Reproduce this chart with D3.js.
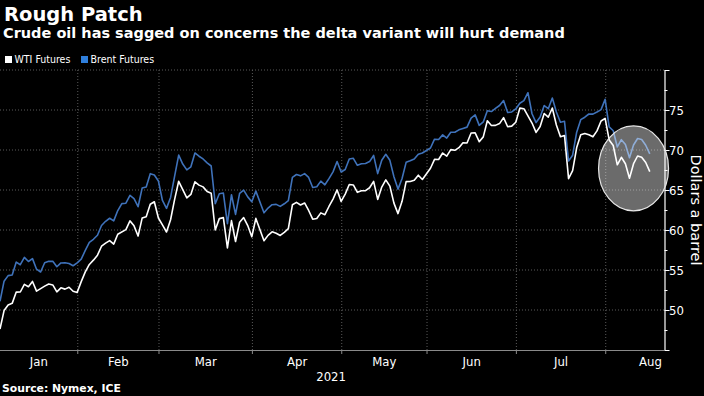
<!DOCTYPE html>
<html>
<head>
<meta charset="utf-8">
<script src="https://cdn.jsdelivr.net/npm/d3@7"></script>
<style>
  html, body { margin: 0; padding: 0; background: #000; }
  svg { display: block; }
</style>
</head>
<body>
<div id="chart"></div>
<script>
//-- DATA --\\
// one value per weekday from firstDay to lastDay, null where the exchange was shut
var firstDay = "2021-01-04";
var lastDay = "2021-08-16";

var wti = [
  47.62, 49.93, 50.63, 50.83, 52.24, 52.25, 53.21, 52.91, 53.57, 52.36, null, 52.98, 53.24, 53.13, 52.27, 52.77, 52.61, 52.85, 52.34, 52.20,
  53.55, 54.76, 55.69, 56.23, 56.85, 57.97, 58.36, 58.68, 58.24, 59.47, null, 60.05, 61.14, 60.52, 59.24, 61.49, 61.67, 63.22, 63.53, 61.50,
  60.64, 59.75, 61.28, 63.83, 66.09, 65.05, 64.01, 64.44, 66.02, 65.61, 65.39, 64.80, 64.60, 60.00, 61.42, 61.55, 57.76, 61.18, 58.56, 60.97, 61.56, 60.55, 59.16,
  61.45, null, 58.65, 59.33, 59.77, 59.60, 59.32, 59.70, 60.18, 63.15, 63.46, 63.13, 63.38, 62.44, 61.35, 61.43, 62.14, 61.91, 62.94, 63.86, 65.01, 63.58,
  64.49, 65.69, 65.63, 64.71, 64.90, 64.92, 65.28, 66.08, 63.82, 65.37, 66.27, 65.49, 63.36, 62.05, 63.58, 66.05, 66.07, 66.21, 66.85, 66.32, null,
  67.72, 68.83, 68.81, 69.62, 69.23, 70.05, 69.96, 70.29, 70.91, 70.88, 72.12, 72.15, 71.04, 71.64, 73.66, 73.06, 73.08, 73.30, 74.05, 72.91, 72.98, 73.47,
  75.23, 75.16, null, 73.37, 72.20, 72.94, 74.56, 74.10, 75.25, 73.13, 71.65, 71.81, 66.42, 67.42, 70.30, 71.91, 72.07, 71.91, 71.65, 72.39, 73.62, 73.95,
  71.26, 70.56, 68.15, 69.09, 68.28, 66.48, 68.29, 69.25, 69.09, 68.44, 67.29
];

var brent = [
  51.09, 53.60, 54.30, 54.38, 55.99, 55.66, 56.58, 56.06, 56.42, 55.10, 54.75, 55.90, 56.08, 56.10, 55.41, 55.88, 55.91, 55.81, 55.53, 55.88,
  56.35, 57.46, 58.46, 58.84, 59.34, 60.56, 61.09, 61.47, 61.14, 62.43, 63.30, 63.35, 64.34, 63.93, 62.91, 65.24, 65.37, 67.04, 66.88, 66.13,
  63.69, 62.70, 64.07, 66.74, 69.36, 68.24, 67.52, 67.90, 69.63, 69.22, 68.88, 68.39, 68.00, 63.28, 64.53, 64.62, 60.79, 64.41, 61.95, 64.57, 64.98, 64.14, 63.54,
  64.86, null, 62.15, 62.74, 63.16, 63.20, 62.95, 63.28, 63.67, 66.58, 66.94, 66.77, 67.05, 66.57, 65.32, 65.40, 66.11, 65.65, 66.42, 67.27, 68.56, 67.25,
  67.56, 68.88, 68.96, 68.09, 68.28, 68.32, 68.55, 69.32, 67.05, 68.71, 69.46, 68.71, 66.66, 65.11, 66.44, 68.46, 68.65, 68.87, 69.46, 69.63, null,
  70.25, 71.35, 71.31, 71.89, 71.49, 72.22, 72.22, 72.52, 72.69, 72.86, 73.99, 74.39, 73.08, 73.51, 74.90, 74.81, 75.19, 75.56, 76.18, 74.68, 74.76, 75.13,
  75.84, 76.17, 77.16, 74.53, 73.43, 74.12, 75.55, 75.16, 76.49, 74.76, 73.47, 73.59, 68.62, 69.35, 72.23, 73.79, 74.10, 74.50, 74.48, 74.74, 75.05, 76.33,
  72.89, 72.41, 70.38, 71.29, 70.70, 69.04, 70.63, 71.44, 71.31, 70.59, 69.51
];

var seriesNames = ["WTI Futures", "Brent Futures"];
var monthNames = ["Jan", "Feb", "Mar", "Apr", "May", "Jun", "Jul", "Aug"];
var yearLabel = "2021";
var yTickValues = [50, 55, 60, 65, 70, 75];
var yGridValues = [50, 55, 60, 65, 70, 75, 80];

//-- CONSTANTS --\\
var width = 704;
var height = 396;
var plotLeft = 0;
var plotRight = 664;
var plotTop = 70;
var plotBottom = 350;
var bgCol = "#000000";
var wtiCol = "#ffffff";
var brentCol = "#3f72ba";
var brentLegendCol = "#2f7fdc";
var gridCol = "#5a5a5a";
var gridShift = 0.85;   // month lines sit a little before the first session
var narrowFont = "'Liberation Sans Narrow', 'DejaVu Sans Condensed', sans-serif";
var mainFont = "'DejaVu Sans', Verdana, sans-serif";

var parseDay = d3.timeParse("%Y-%m-%d");
var startDate = parseDay(firstDay);

/* counts weekdays from the first session, weekends squeezed out */
function weekdayIndex(d) {
    var n = d3.timeDay.count(startDate, d);
    return n - 2 * Math.floor(n / 7);
}

var days = d3.timeDay.range(startDate, d3.timeDay.offset(parseDay(lastDay), 1))
    .filter(function (d) { return d.getDay() !== 0 && d.getDay() !== 6; });

function toPoints(values) {
    return days.map(function (d, i) { return {date: d, idx: weekdayIndex(d), v: values[i]}; })
        .filter(function (p) { return p.v != null; });
}

var wtiPts = toPoints(wti);
var brentPts = toPoints(brent);

//-- SCALES --\\
var x = d3.scaleLinear().domain([0, 163.5]).range([plotLeft, plotRight]);
var y = d3.scaleLinear().domain([45, 80]).range([plotBottom, plotTop]);

// first weekday of each month Jan..Sep
var monthStarts = d3.range(0, 9).map(function (m) {
    var d = new Date(2021, m, 1);
    while (d.getDay() === 0 || d.getDay() === 6) { d = d3.timeDay.offset(d, 1); }
    return x(weekdayIndex(d) - gridShift);
});

var svg = d3.select("#chart").append("svg")
    .attr("width", width)
    .attr("height", height);

svg.append("rect").attr("width", width).attr("height", height).attr("fill", bgCol);

//-- GRID --\\
svg.append("g").selectAll("line").data(yGridValues).enter().append("line")
    .attr("x1", plotLeft).attr("x2", plotRight)
    .attr("y1", function (d) { return y(d); }).attr("y2", function (d) { return y(d); })
    .attr("stroke", gridCol).attr("stroke-width", 1).attr("stroke-dasharray", "1,2");

var innerMonths = monthStarts.slice(1, 8);
svg.append("g").selectAll("line").data(innerMonths).enter().append("line")
    .attr("x1", function (d) { return d; }).attr("x2", function (d) { return d; })
    .attr("y1", plotTop).attr("y2", plotBottom)
    .attr("stroke", gridCol).attr("stroke-width", 1).attr("stroke-dasharray", "1,2");

// bottom axis line + month ticks
svg.append("line")
    .attr("x1", plotLeft).attr("x2", plotRight)
    .attr("y1", plotBottom + 0.5).attr("y2", plotBottom + 0.5)
    .attr("stroke", "#8a8a8a").attr("stroke-width", 1);
svg.append("g").selectAll("line").data(innerMonths).enter().append("line")
    .attr("x1", function (d) { return d; }).attr("x2", function (d) { return d; })
    .attr("y1", plotBottom).attr("y2", plotBottom + 4)
    .attr("stroke", "#8a8a8a").attr("stroke-width", 1);

// month labels centred on the visible part of each month
svg.append("g").selectAll("text").data(monthNames).enter().append("text")
    .attr("x", function (d, i) { return (Math.max(monthStarts[i], plotLeft) + monthStarts[i + 1]) / 2; })
    .attr("y", 366)
    .attr("text-anchor", "middle")
    .attr("fill", "#fff")
    .style("font-family", narrowFont)
    .style("font-size", "13px")
    .text(function (d) { return d; });

svg.append("text")
    .attr("x", (monthStarts[3] + monthStarts[4]) / 2 + 34)
    .attr("y", 381)
    .attr("text-anchor", "middle")
    .attr("fill", "#fff")
    .style("font-family", narrowFont)
    .style("font-size", "13px")
    .text(yearLabel);

//-- RIGHT AXIS --\\
var yAxis = d3.axisRight(y)
    .tickValues(d3.range(45, 80.1, 2.5))
    .tickSize(0)
    .tickFormat("");
var axisG = svg.append("g").attr("transform", "translate(" + (plotRight + 0.5) + ",0)").call(yAxis);
axisG.select(".domain").attr("stroke", "#fff").attr("stroke-width", 1.2);
axisG.selectAll(".tick line")
    .attr("x2", function (d) { return d % 5 === 0 ? 5 : 3; })
    .attr("stroke", "#fff");

svg.append("g").selectAll("text").data(yTickValues).enter().append("text")
    .attr("x", plotRight + 5)
    .attr("y", function (d) { return y(d); })
    .attr("dy", "0.36em")
    .attr("fill", "#fff")
    .style("font-family", narrowFont)
    .style("font-size", "13px")
    .text(function (d) { return d; });

svg.append("text")
    .attr("transform", "translate(691,210) rotate(90)")
    .attr("text-anchor", "middle")
    .attr("fill", "#fff")
    .style("font-family", mainFont)
    .style("font-size", "14.5px")
    .text("Dollars a barrel");

//-- LINES --\\
var line = d3.line()
    .x(function (d) { return x(d.idx); })
    .y(function (d) { return y(d.v); });

svg.append("path").datum(brentPts)
    .attr("d", line)
    .attr("fill", "none")
    .attr("stroke", brentCol)
    .attr("stroke-width", 1.6)
    .attr("stroke-linejoin", "round");

svg.append("path").datum(wtiPts)
    .attr("d", line)
    .attr("fill", "none")
    .attr("stroke", wtiCol)
    .attr("stroke-width", 1.6)
    .attr("stroke-linejoin", "round");

// highlight over the August slide
svg.append("ellipse")
    .attr("cx", x(156))
    .attr("cy", y(67.7))
    .attr("rx", 35)
    .attr("ry", 42.5)
    .attr("fill", "#ffffff")
    .attr("fill-opacity", 0.42)
    .attr("stroke", "#e6e6e6")
    .attr("stroke-width", 1.2);

//-- TITLES --\\
svg.append("text")
    .attr("x", 4).attr("y", 21)
    .attr("fill", "#fff")
    .style("font-family", mainFont)
    .style("font-weight", "bold")
    .style("font-size", "19.5px")
    .text("Rough Patch");

svg.append("text")
    .attr("x", 3).attr("y", 38)
    .attr("fill", "#fff")
    .style("font-family", mainFont)
    .style("font-weight", "bold")
    .style("font-size", "14.5px")
    .text("Crude oil has sagged on concerns the delta variant will hurt demand");

//-- LEGEND --\\
var legendX = [5, 81];
var legendCols = [wtiCol, brentLegendCol];
var legend = svg.append("g").selectAll("g").data(seriesNames).enter().append("g")
    .attr("transform", function (d, i) { return "translate(" + legendX[i] + ",56)"; });
legend.append("rect")
    .attr("width", 7).attr("height", 7)
    .attr("fill", function (d, i) { return legendCols[i]; });
legend.append("text")
    .attr("x", 9.5).attr("y", 7)
    .attr("fill", "#fff")
    .style("font-family", narrowFont)
    .style("font-size", "10.5px")
    .text(function (d) { return d; });

svg.append("text")
    .attr("x", 2).attr("y", 392)
    .attr("fill", "#fff")
    .style("font-family", mainFont)
    .style("font-weight", "bold")
    .style("font-size", "10.8px")
    .text("Source: Nymex, ICE");
</script>
</body>
</html>
